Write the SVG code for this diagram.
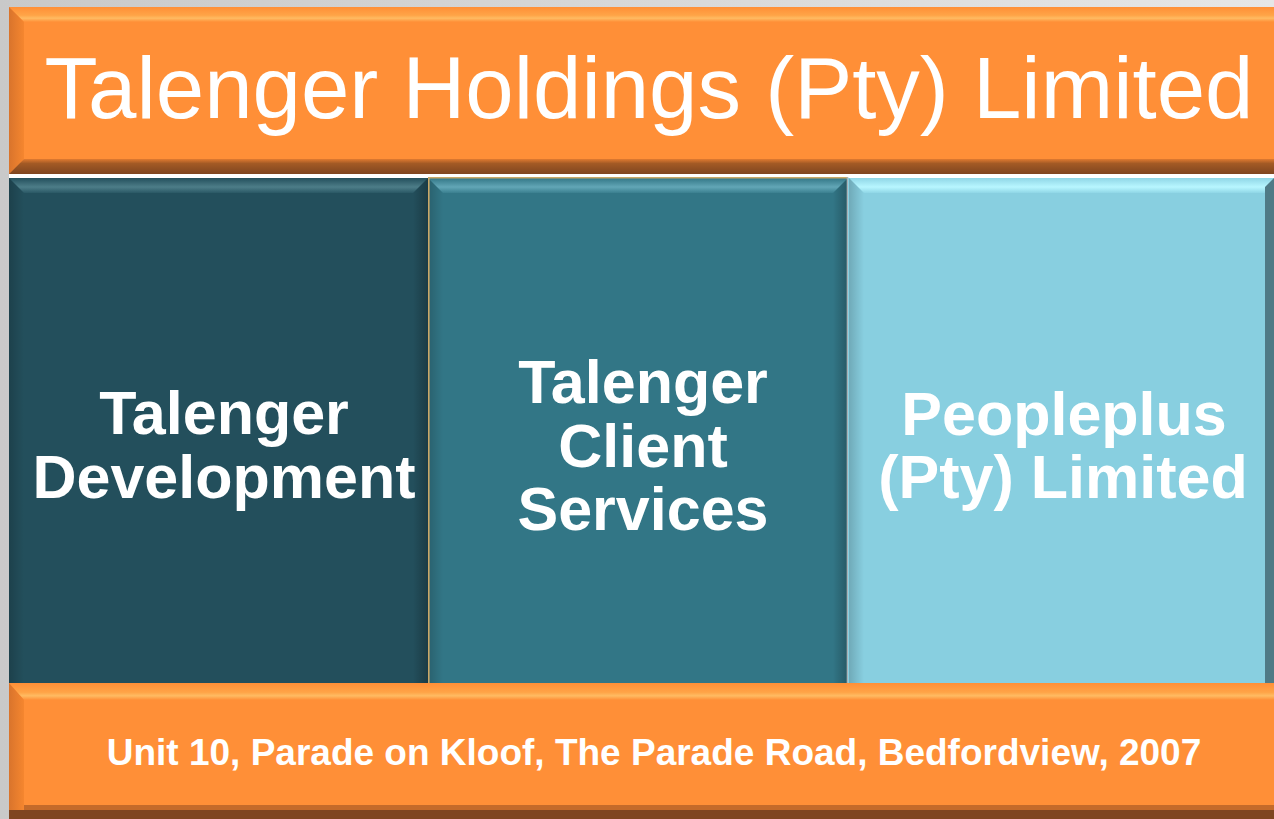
<svg xmlns="http://www.w3.org/2000/svg" width="1274" height="819" viewBox="0 0 1274 819">
<style>
.t{font-family:"Liberation Sans",Arial,sans-serif;fill:#fff;text-anchor:middle}
.title{font-size:87px}
.lbl{font-size:61px;font-weight:bold}
.addr{font-size:37px;font-weight:bold}
.orange{fill:#ff8f37}
</style>
<defs>
<linearGradient id="bg" x1="0" y1="0" x2="1" y2="0">
<stop offset="0" stop-color="#c9c9c9"/><stop offset="1" stop-color="#e6e6e6"/>
</linearGradient>
<linearGradient id="otop" x1="0" y1="0" x2="0" y2="1">
<stop offset="0" stop-color="#ff8f37"/><stop offset="0.55" stop-color="#ffa447"/><stop offset="0.75" stop-color="#ffbb62"/><stop offset="1" stop-color="#ff8f37"/>
</linearGradient>
<linearGradient id="obot" x1="0" y1="0" x2="0" y2="1">
<stop offset="0" stop-color="#e07a30"/><stop offset="0.3" stop-color="#a35a25"/><stop offset="1" stop-color="#7f4520"/>
</linearGradient>
<linearGradient id="oleft" x1="0" y1="0" x2="1" y2="0">
<stop offset="0" stop-color="#d9742c"/><stop offset="1" stop-color="#f5862f"/>
</linearGradient>
<linearGradient id="tl1" x1="0" y1="0" x2="0" y2="1">
<stop offset="0" stop-color="#234f5c"/><stop offset="0.6" stop-color="#4d7d88"/><stop offset="1" stop-color="#2a5865"/>
</linearGradient>
<linearGradient id="tl2" x1="0" y1="0" x2="0" y2="1">
<stop offset="0" stop-color="#327686"/><stop offset="0.6" stop-color="#62a6b6"/><stop offset="1" stop-color="#3a7f8f"/>
</linearGradient>
<linearGradient id="tl3" x1="0" y1="0" x2="0" y2="1">
<stop offset="0" stop-color="#8fd6e6"/><stop offset="0.6" stop-color="#b8f6ff"/><stop offset="1" stop-color="#8fd6e6"/>
</linearGradient>
<linearGradient id="dl" x1="0" y1="0" x2="1" y2="0">
<stop offset="0" stop-color="#000" stop-opacity="0.18"/><stop offset="1" stop-color="#000" stop-opacity="0"/>
</linearGradient>
<linearGradient id="dr" x1="0" y1="0" x2="1" y2="0">
<stop offset="0" stop-color="#000" stop-opacity="0"/><stop offset="1" stop-color="#000" stop-opacity="0.25"/>
</linearGradient>
</defs>
<rect width="1274" height="819" fill="url(#bg)"/>

<g id="title-bar">
<rect class="orange" x="9" y="7" width="1280" height="167"/>
<polygon points="9,7 1289,7 1274,22 24,22" fill="url(#otop)"/>
<polygon points="9,7 24,22 24,159 9,174" fill="url(#oleft)"/>
<polygon points="9,174 24,159 1289,159 1304,174" fill="url(#obot)"/>
<text class="t title" x="649" y="118">Talenger Holdings (Pty) Limited</text>
</g>

<rect x="9" y="174" width="1265" height="4" fill="#ffffff"/>

<g id="talenger-development">
<rect x="9" y="178" width="419" height="505" fill="#234f5c"/>
<polygon points="9,178 428,178 413,193 24,193" fill="url(#tl1)"/>
<polygon points="9,178 24,193 24,683 9,683" fill="url(#dl)"/>
<polygon points="428,178 413,193 413,683 428,683" fill="url(#dr)"/>
<text class="t lbl" x="224" y="434">Talenger</text>
<text class="t lbl" x="224" y="498">Development</text>
</g>

<g id="talenger-client-services">
<rect x="428" y="178" width="420" height="505" fill="#327686"/>
<polygon points="428,178 848,178 833,193 443,193" fill="url(#tl2)"/>
<polygon points="428,178 443,193 443,683 428,683" fill="url(#dl)"/>
<polygon points="848,178 833,193 833,683 848,683" fill="url(#dr)"/>
<path d="M428.8,683 V177.8 H847" fill="none" stroke="#c9a868" stroke-width="1.6"/>
<path d="M847.5,177 V683" fill="none" stroke="#a9b2b6" stroke-width="1.6"/>
<text class="t lbl" x="643" y="403">Talenger</text>
<text class="t lbl" x="643" y="467">Client</text>
<text class="t lbl" x="643" y="530">Services</text>
</g>

<g id="peopleplus">
<rect x="848" y="178" width="426" height="505" fill="#88cfe0"/>
<polygon points="849,178 1289,178 1274,193 864,193" fill="url(#tl3)"/>
<polygon points="849,178 864,193 864,683 849,683" fill="url(#dl)"/>
<polygon points="1274,178 1265,187 1265,683 1274,683" fill="#4f7a86"/>
<text class="t lbl" x="1064" y="435">Peopleplus</text>
<text class="t lbl" x="1063" y="498">(Pty) Limited</text>
</g>

<g id="address-bar">
<rect class="orange" x="9" y="683" width="1280" height="150"/>
<polygon points="9,683 1289,683 1274,700 24,700" fill="url(#otop)"/>
<polygon points="9,683 24,700 24,819 9,819" fill="url(#oleft)"/>
<rect x="24" y="805" width="1250" height="5" fill="#c46a2a"/>
<rect x="9" y="810" width="1265" height="9" fill="#7f4520"/>
<text class="t addr" x="654" y="765">Unit 10, Parade on Kloof, The Parade Road, Bedfordview, 2007</text>
</g>

<g id="connectors"></g>
</svg>
